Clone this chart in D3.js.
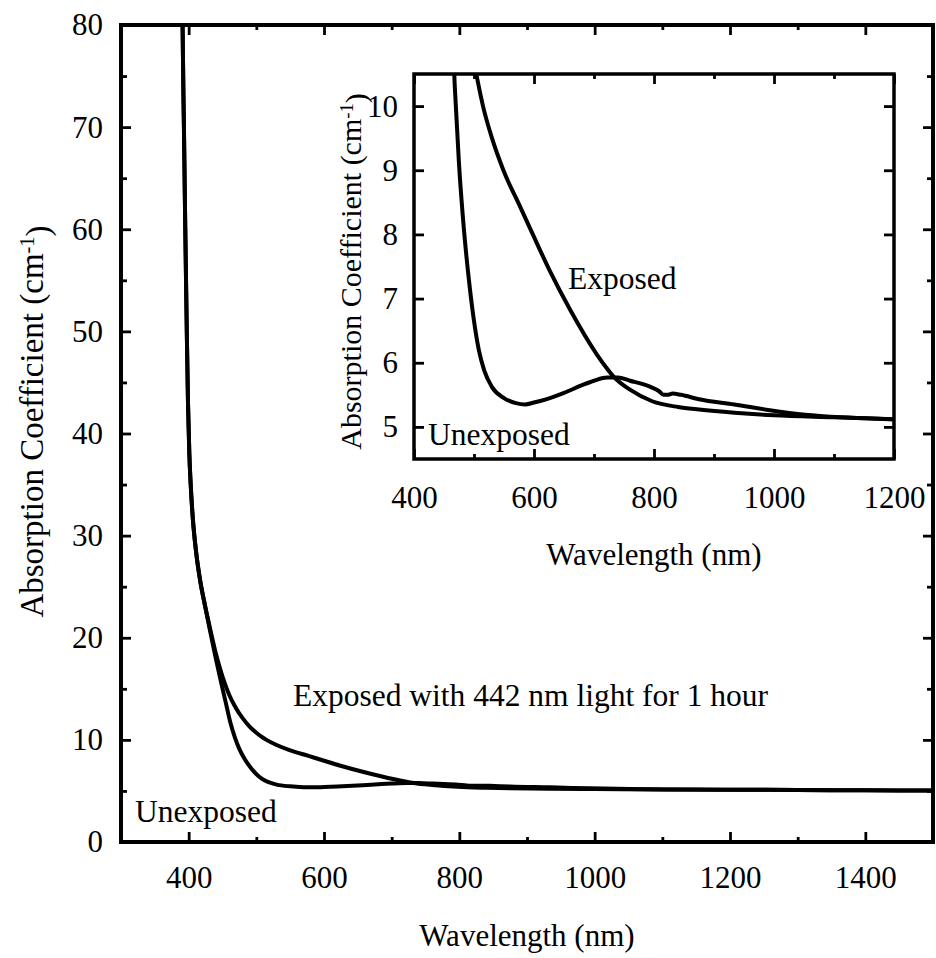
<!DOCTYPE html>
<html>
<head>
<meta charset="utf-8">
<script src="https://cdn.jsdelivr.net/npm/d3@7"></script>
<style>
  html, body { margin: 0; padding: 0; background: #fff; }
  svg { display: block; }
  text { font-family: "Liberation Serif", "DejaVu Serif", serif; fill: #000; }
</style>
</head>
<body>
<svg id="chart" width="936" height="958"></svg>
<script>
// ---- data ----
const sharedWavelength = [390, 391, 393, 395, 397, 399, 401, 403, 406, 411, 417, 424];
const sharedAbsorption = [90, 80, 70, 60, 51, 43, 38, 35, 31.8, 28.4, 25.6, 23.2];

const unexposedWavelength = [430, 435, 440, 448, 455, 462, 468, 475, 483, 492, 500, 508, 517, 530, 550, 570, 585, 600, 620, 650, 680, 700, 722, 740, 760, 795, 808, 816, 824, 831, 845, 875, 934, 993, 1052, 1112, 1200, 1300, 1400, 1500];
const unexposedAbsorption = [21.2, 19.6, 18.0, 15.6, 13.6, 11.6, 10.3, 9.1, 8.1, 7.25, 6.65, 6.2, 5.88, 5.62, 5.45, 5.37, 5.35, 5.38, 5.43, 5.53, 5.65, 5.72, 5.77, 5.77, 5.72, 5.62, 5.56, 5.50, 5.50, 5.52, 5.50, 5.43, 5.35, 5.26, 5.19, 5.15, 5.12, 5.09, 5.06, 5.04];

const exposedWavelength = [430, 435, 440, 450, 460, 470, 480, 490, 500, 507, 515, 530, 549, 577, 599, 627, 660, 704, 720, 733, 760, 797, 840, 875, 934, 1000, 1100, 1200, 1300, 1400, 1500];
const exposedAbsorption = [21.4, 19.9, 18.5, 16.2, 14.4, 13.1, 12.1, 11.3, 10.7, 10.35, 10.0, 9.5, 9.0, 8.43, 7.98, 7.42, 6.83, 6.14, 5.93, 5.78, 5.58, 5.40, 5.31, 5.27, 5.22, 5.18, 5.15, 5.12, 5.09, 5.06, 5.04];

const mainXMajor = [400, 600, 800, 1000, 1200, 1400];
const mainXMinor = [300, 500, 700, 900, 1100, 1300, 1500];
const mainYMajor = [0, 10, 20, 30, 40, 50, 60, 70, 80];
const mainYMinor = [5, 15, 25, 35, 45, 55, 65, 75];
const insetXMajor = [400, 600, 800, 1000, 1200];
const insetXMinor = [500, 700, 900, 1100];
const insetYMajor = [5, 6, 7, 8, 9, 10];

const xTitle = "Wavelength (nm)";
const yTitle = "Absorption Coefficient (cm";

// ---- build series ----
const toPoints = (w, a) => w.map((d, i) => ({ wl: d, ab: a[i] }));
const shared = toPoints(sharedWavelength, sharedAbsorption);
const unexposed = shared.concat(toPoints(unexposedWavelength, unexposedAbsorption));
const exposed = shared.concat(toPoints(exposedWavelength, exposedAbsorption));
const series = [unexposed, exposed];

const svg = d3.select("#chart");
const FS = 31;
const LABEL_FS = 31.5;

function drawPanel(g, opt) {
  const { x, y, clipId } = opt;
  const [x0, x1] = x.range();
  const [y0, y1] = y.range(); // y0 bottom, y1 top

  g.append("rect").attr("x", x0).attr("y", y1).attr("width", x1 - x0).attr("height", y0 - y1)
    .attr("fill", "#fff");

  g.append("clipPath").attr("id", clipId).append("rect")
    .attr("x", x0).attr("y", y1).attr("width", x1 - x0).attr("height", y0 - y1);

  const line = d3.line().x(d => x(d.wl)).y(d => y(d.ab)).curve(d3.curveMonotoneX);
  g.append("g").attr("clip-path", `url(#${clipId})`)
    .selectAll("path").data(series).join("path")
    .attr("d", line).attr("fill", "none").attr("stroke", "#000")
    .attr("stroke-width", 4).attr("stroke-linejoin", "round").attr("stroke-linecap", "round");

  const styleAxis = sel => {
    sel.select(".domain").remove();
    sel.selectAll(".tick line").attr("stroke", "#000").attr("stroke-width", 2.8);
    sel.selectAll(".tick text").attr("font-size", FS).attr("font-family", "Liberation Serif");
  };

  // bottom
  g.append("g").attr("transform", `translate(0,${y0})`)
    .call(d3.axisBottom(x).tickValues(opt.xMajor).tickSize(-10).tickPadding(opt.xPad).tickFormat(d3.format("d")))
    .call(styleAxis);
  g.append("g").attr("transform", `translate(0,${y0})`)
    .call(d3.axisBottom(x).tickValues(opt.xMinor).tickSize(-5).tickFormat(""))
    .call(styleAxis);
  // top
  g.append("g").attr("transform", `translate(0,${y1})`)
    .call(d3.axisTop(x).tickValues(opt.xMajor).tickSize(-10).tickFormat(""))
    .call(styleAxis);
  g.append("g").attr("transform", `translate(0,${y1})`)
    .call(d3.axisTop(x).tickValues(opt.xMinor).tickSize(-5).tickFormat(""))
    .call(styleAxis);
  // left
  g.append("g").attr("transform", `translate(${x0},0)`)
    .call(d3.axisLeft(y).tickValues(opt.yMajor).tickSize(-10).tickPadding(opt.yPad).tickFormat(d3.format("d")))
    .call(styleAxis);
  // right
  g.append("g").attr("transform", `translate(${x1},0)`)
    .call(d3.axisRight(y).tickValues(opt.yMajor).tickSize(-10).tickFormat(""))
    .call(styleAxis);
  if (opt.yMinor) {
    g.append("g").attr("transform", `translate(${x0},0)`)
      .call(d3.axisLeft(y).tickValues(opt.yMinor).tickSize(-6).tickFormat(""))
      .call(styleAxis);
    g.append("g").attr("transform", `translate(${x1},0)`)
      .call(d3.axisRight(y).tickValues(opt.yMinor).tickSize(-6).tickFormat(""))
      .call(styleAxis);
  }

  g.append("rect").attr("x", x0).attr("y", y1).attr("width", x1 - x0).attr("height", y0 - y1)
    .attr("fill", "none").attr("stroke", "#000").attr("stroke-width", opt.frameW);

  // axis titles
  g.append("text").attr("x", (x0 + x1) / 2).attr("y", opt.xTitleY)
    .attr("text-anchor", "middle").attr("font-size", FS).text(xTitle);

  const yt = g.append("text")
    .attr("transform", `translate(${opt.yTitleX},${(y0 + y1) / 2 + opt.yTitleShift}) rotate(-90)`)
    .attr("text-anchor", "middle").attr("font-size", opt.yTitleFS);
  yt.append("tspan").text(yTitle);
  yt.append("tspan").attr("dy", "-0.45em").attr("font-size", opt.yTitleFS * 0.62).text("-1");
  yt.append("tspan").attr("dy", "0.45em").text(")");
}

// main panel
const mainX = d3.scaleLinear().domain([300, 1500]).range([121, 933]);
const mainY = d3.scaleLinear().domain([0, 80]).range([842, 25]);
const gMain = svg.append("g");
drawPanel(gMain, {
  x: mainX, y: mainY, clipId: "clipMain",
  xMajor: mainXMajor, xMinor: mainXMinor, yMajor: mainYMajor, yMinor: mainYMinor,
  xPad: 24, yPad: 18, frameW: 4, xTitleY: 946, yTitleX: 43, yTitleShift: -12, yTitleFS: 33
});

// labels in main panel
gMain.append("text").attr("x", 293).attr("y", 706).attr("font-size", LABEL_FS)
  .text("Exposed with 442 nm light for 1 hour");
gMain.append("text").attr("x", 135).attr("y", 822).attr("font-size", LABEL_FS).text("Unexposed");

// inset panel
const insetX = d3.scaleLinear().domain([400, 1200]).range([414, 894]);
const insetY = d3.scaleLinear().domain([4.5, 10.5]).range([459, 74]);
const gInset = svg.append("g");
drawPanel(gInset, {
  x: insetX, y: insetY, clipId: "clipInset",
  xMajor: insetXMajor, xMinor: insetXMinor, yMajor: insetYMajor, yMinor: null,
  xPad: 27, yPad: 16, frameW: 3.5, xTitleY: 565, yTitleX: 361, yTitleShift: 5, yTitleFS: 30
});
gInset.append("text").attr("x", 568).attr("y", 289).attr("font-size", LABEL_FS).text("Exposed");
gInset.append("text").attr("x", 428).attr("y", 445).attr("font-size", LABEL_FS).text("Unexposed");
</script>
</body>
</html>
